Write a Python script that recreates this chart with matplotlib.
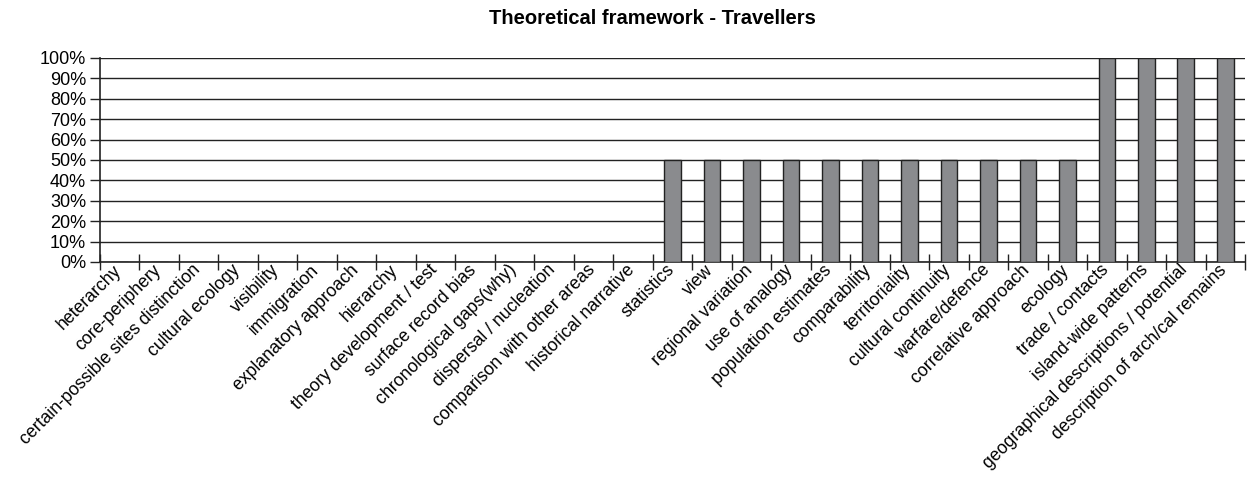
import numpy as np
import matplotlib.pyplot as plt
import matplotlib.transforms as mtransforms
from matplotlib.ticker import FixedLocator, PercentFormatter

plt.rcParams['font.family'] = ['Liberation Sans', 'DejaVu Sans']

categories = ['heterarchy', 'core-periphery', 'certain-possible sites distinction',
              'cultural ecology', 'visibility', 'immigration', 'explanatory approach',
              'hierarchy', 'theory development / test', 'surface record bias',
              'chronological gaps(why)', 'dispersal / nucleation',
              'comparison with other areas', 'historical narrative', 'statistics',
              'view', 'regional variation', 'use of analogy', 'population estimates',
              'comparability', 'territoriality', 'cultural continuity', 'warfare/defence',
              'correlative approach', 'ecology', 'trade / contacts', 'island-wide patterns',
              'geographical descriptions / potential', 'description of arch/cal remains']
values = [0, 0, 0, 0, 0, 0, 0, 0, 0, 0, 0, 0, 0, 0,
          50, 50, 50, 50, 50, 50, 50, 50, 50, 50, 50,
          100, 100, 100, 100]

fig = plt.figure(figsize=(12.51, 4.78), dpi=100)
ax = fig.add_axes([100 / 1251, 1 - 262 / 478, 1145 / 1251, 204 / 478])

x = np.arange(len(categories))
ax.bar(x, values, width=0.42, color='#8a8b8e', edgecolor='#222222', linewidth=1.0, zorder=3)

ax.set_xlim(-0.5, len(categories) - 0.5)
ax.set_ylim(0, 100)
ax.yaxis.set_major_locator(FixedLocator(np.arange(0, 101, 10)))
ax.yaxis.set_major_formatter(PercentFormatter(decimals=0))
ax.grid(axis='y', color='#222222', linewidth=1.0, zorder=0)

ax.set_xticks(x)
ax.set_xticklabels(categories, rotation=45, ha='right', rotation_mode='anchor', fontsize=12.7)
ax.xaxis.set_minor_locator(FixedLocator(np.arange(-0.5, len(categories), 1)))
ax.tick_params(axis='x', which='major', length=0, pad=9)
ax.tick_params(axis='x', which='minor', length=11, width=1, direction='inout', color='#222222')
ax.tick_params(axis='y', length=7, width=1, direction='out', color='#222222', labelsize=13, pad=3)

# nudge the rotated labels so their ends sit just under the category centres
shift = mtransforms.ScaledTranslation(-7 / 100, 13 / 100, fig.dpi_scale_trans)
for lab in ax.get_xticklabels():
    lab.set_transform(lab.get_transform() + shift)

for side in ['top', 'right']:
    ax.spines[side].set_visible(False)
for side in ['left', 'bottom']:
    ax.spines[side].set_color('#222222')
    ax.spines[side].set_linewidth(1.2)

fig.text(652 / 1251, 1 - 18 / 478, 'Theoretical framework - Travellers',
         fontsize=14.5, fontweight='bold', ha='center', va='center')

fig.savefig('out.png', dpi=100)
